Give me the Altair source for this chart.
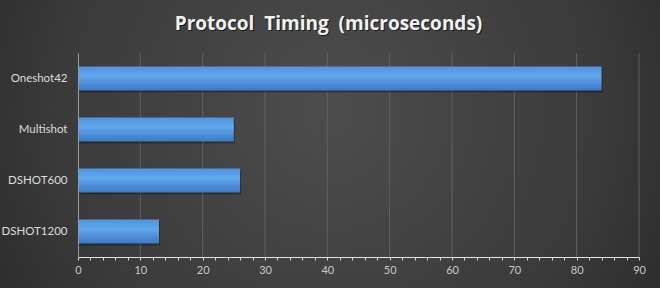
import altair as alt
import pandas as pd

# ---- data ----
protocols = ["Oneshot42", "Multishot", "DSHOT600", "DSHOT1200"]
timing_us = [84, 25, 26, 13]
grid_values = [10, 20, 30, 40, 50, 60, 70, 80, 90]
tick_values = list(range(0, 91, 2))
title_text = "Protocol\u00a0\u00a0Timing\u00a0\u00a0(microseconds)"

df = pd.DataFrame({"protocol": protocols, "timing": timing_us})
grid_df = pd.DataFrame({"timing": grid_values})

xscale = alt.Scale(domain=[0, 90], nice=False, zero=True)
yscale = alt.Scale(domain=protocols, paddingInner=0.53, paddingOuter=0.265)

xaxis = alt.Axis(
    title=None,
    values=tick_values,
    labelExpr="datum.value % 10 == 0 ? datum.label : ''",
    grid=False,
    tickSize=3,
    tickColor="#d8d8d8",
    domainColor="#e6e6e6",
    domainWidth=1,
    labelColor="#c8c8c8",
    labelFont="Lato",
    labelFontSize=11,
    labelPadding=4,
    labelFlush=False,
    zindex=1,
)
yaxis = alt.Axis(
    title=None,
    grid=False,
    ticks=False,
    domainColor="#9a9a9a",
    labelColor="#dcdcdc",
    labelFont="Lato",
    labelFontSize=11.5,
    labelPadding=11,
    zindex=1,
)

one = alt.Data(values=[{}])

bg = alt.Chart(one).mark_rect(
    fill={
        "gradient": "radial",
        "x1": 0.5, "y1": 0.45, "r1": 0,
        "x2": 0.5, "y2": 0.45, "r2": 0.75,
        "stops": [
            {"offset": 0, "color": "#4d4d4d"},
            {"offset": 0.55, "color": "#3a3a3a"},
            {"offset": 1, "color": "#1f1f1f"},
        ],
    }
).encode(
    x=alt.value(-78), x2=alt.value(582), y=alt.value(-53), y2=alt.value(235)
)

title_style = dict(font="Open Sans", fontSize=19, fontWeight="bold",
                   align="center", baseline="alphabetic")

title_shadow = alt.Chart(one).mark_text(
    color="#000000", opacity=0.6, dx=1, dy=1, **title_style
).encode(text=alt.value(title_text), x=alt.value(250.5), y=alt.value(-23))

title = alt.Chart(one).mark_text(color="#f2f2f2", **title_style).encode(
    text=alt.value(title_text), x=alt.value(250.5), y=alt.value(-23)
)

grid = alt.Chart(grid_df).mark_rule(color="#606060", strokeWidth=1).encode(
    x=alt.X("timing:Q", scale=xscale, axis=xaxis)
)

shadow = alt.Chart(df).mark_bar(color="#000000", opacity=0.3, xOffset=1, yOffset=2).encode(
    x=alt.X("timing:Q", scale=xscale, axis=xaxis),
    y=alt.Y("protocol:N", scale=yscale, sort=protocols, axis=yaxis),
)

bars = alt.Chart(df).mark_bar(
    fill={
        "gradient": "linear",
        "x1": 0, "y1": 0, "x2": 0, "y2": 1,
        "stops": [
            {"offset": 0, "color": "#4f94dd"},
            {"offset": 0.4, "color": "#62a6ec"},
            {"offset": 1, "color": "#3c79c3"},
        ],
    }
).encode(
    x=alt.X("timing:Q", scale=xscale, axis=xaxis),
    y=alt.Y("protocol:N", scale=yscale, sort=protocols, axis=yaxis),
)

chart = alt.layer(bg, grid, shadow, bars, title_shadow, title).properties(
    width=561,
    height=204,
    autosize=alt.AutoSizeParams(type="none"),
    padding={"left": 78, "top": 53, "right": 21, "bottom": 31},
).configure(background="#2a2a2a").configure_view(stroke=None)

chart.save("out.html", embed_options={"renderer": "svg", "actions": False})
